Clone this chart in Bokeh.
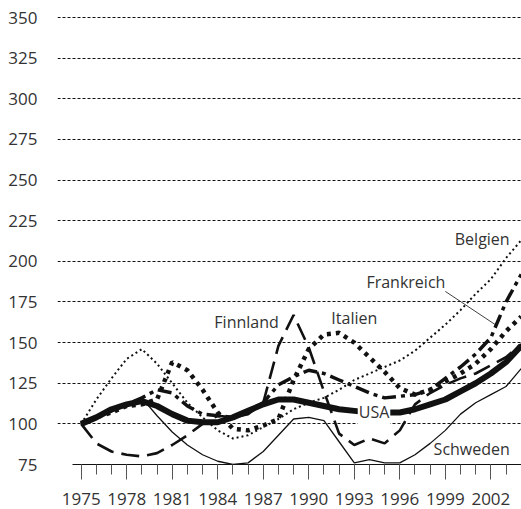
from bokeh.plotting import figure
from bokeh.models import FixedTicker, Label, Range1d
from bokeh.embed import file_html
from bokeh.resources import INLINE
import numpy as np

years = list(range(1975, 2005))
belgien = [100, 115, 128, 140, 146, 137, 125, 113, 104, 96, 91, 93, 98, 103, 109, 113,
           116, 121, 127, 131, 135, 139, 145, 153, 161, 170, 180, 189, 202, 213]
frankreich = [100, 104, 108, 112, 116, 121, 119, 111, 106, 105, 104, 107, 113, 124, 129, 133,
              131, 127, 123, 119, 116, 117, 118, 121, 128, 135, 143, 153, 175, 192]
italien = [100, 104, 107, 111, 112, 115, 138, 133, 121, 107, 97, 96, 99, 103, 127, 146,
           155, 156, 150, 141, 132, 122, 118, 121, 126, 131, 137, 146, 157, 166]
finnland = [100, 88, 83, 81, 80, 82, 87, 93, 100, 105, 104, 106, 113, 148, 167, 147,
            120, 94, 87, 91, 88, 96, 112, 119, 124, 128, 131, 136, 141, 149]
usa = [100, 104, 109, 112, 114, 111, 106, 102, 101, 101, 104, 108, 112, 115, 115, 113,
       111, 109, 108, 107, 107, 107, 109, 112, 115, 120, 125, 131, 138, 148]
schweden = [100, 104, 108, 112, 116, 105, 95, 87, 81, 77, 75, 76, 83, 93, 103, 104,
            102, 89, 76, 78, 76, 76, 81, 88, 96, 106, 113, 118, 123, 134]

y_ticks = list(range(75, 351, 25))
x_major = list(range(1975, 2003, 3))

FONT = "Open Sans"
TXT = "#333333"
INK = "#111111"

p = figure(width=521, height=509, x_range=Range1d(1973.44, 2004.02), y_range=Range1d(75, 360.5),
           output_backend="svg", toolbar_location=None,
           min_border_left=57, min_border_right=0, min_border_top=0, min_border_bottom=45)
p.outline_line_color = None
p.background_fill_color = "white"

# axes
p.yaxis.ticker = FixedTicker(ticks=y_ticks)
p.yaxis.axis_line_color = None
p.yaxis.major_tick_line_color = None
p.yaxis.minor_tick_line_color = None
p.yaxis.major_label_standoff = 14
p.yaxis.major_label_text_font = FONT
p.yaxis.major_label_text_font_size = "17px"
p.yaxis.major_label_text_color = TXT

p.xaxis.ticker = FixedTicker(ticks=x_major, minor_ticks=years)
p.xaxis.bounds = (1974.45, 2004.02)
p.xaxis.axis_line_color = INK
p.xaxis.axis_line_width = 1
p.xaxis.major_tick_in = 0
p.xaxis.major_tick_out = 15
p.xaxis.minor_tick_in = 0
p.xaxis.minor_tick_out = 10
p.xaxis.major_tick_line_color = "#555555"
p.xaxis.minor_tick_line_color = "#555555"
p.xaxis.major_label_standoff = 13
p.xaxis.major_label_text_font = FONT
p.xaxis.major_label_text_font_size = "17px"
p.xaxis.major_label_text_color = TXT

p.xgrid.grid_line_color = None
p.ygrid.ticker = FixedTicker(ticks=y_ticks)
p.ygrid.grid_line_color = INK
p.ygrid.grid_line_dash = "3 2"
p.ygrid.grid_line_width = 1

# series
p.line(years, schweden, line_color=INK, line_width=1.3)
p.line(years, finnland, line_color=INK, line_width=2.6, line_dash="18 8")
p.line(years, belgien, line_color=INK, line_width=2, line_dash="2 3")
p.line(years, frankreich, line_color=INK, line_width=3.5, line_dash="14 5 4 5")
p.line(years, italien, line_color=INK, line_width=4.5, line_dash="4 5")
p.line(years, usa, line_color=INK, line_width=6)

# leader line for Frankreich
lead_x = [1999.0, 2002.35]
lead_y = [181.5, float(np.interp(2002.35, years, frankreich))]
p.line(lead_x, lead_y, line_color=INK, line_width=0.8)

labels = [
    ("Belgien", 2003.24, 213.9, "right", None),
    ("Frankreich", 1996.4, 187.4, "center", None),
    ("Italien", 1993.0, 165.3, "center", None),
    ("Finnland", 1985.9, 162.8, "center", None),
    ("Schweden", 2000.74, 84.6, "center", None),
    ("USA", 1994.3, 107.1, "center", "white"),
]
for txt, x, y, align, bg in labels:
    lab = Label(x=x, y=y, text=txt, text_align=align, text_baseline="middle",
                text_font=FONT, text_font_size="16px", text_color=TXT)
    if bg:
        lab.background_fill_color = bg
        lab.padding = 1
    p.add_layout(lab)

open("out.html", "w").write(file_html(p, INLINE))
